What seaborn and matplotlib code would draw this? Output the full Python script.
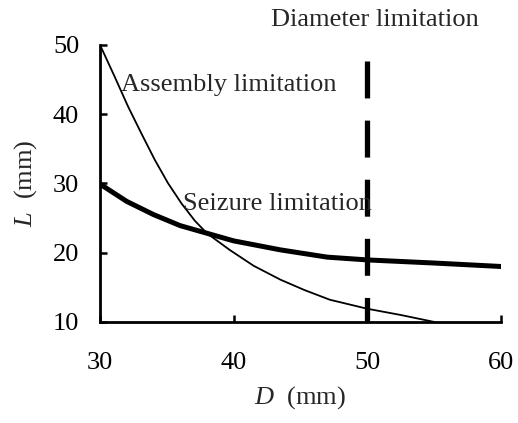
import matplotlib
matplotlib.use("Agg")
import matplotlib.pyplot as plt
import seaborn as sns
import pandas as pd

# Data
assembly_D = [30, 31.1, 32.1, 33.1, 34.1, 35.1, 36.1, 37.1, 38, 39.7, 41.5, 43.5, 45.3, 47.2, 50, 52.5, 55]
assembly_L = [50, 45.4, 41.1, 37.2, 33.4, 30.0, 27.1, 24.6, 22.8, 20.4, 18.1, 16.1, 14.6, 13.2, 11.9, 11.0, 10.0]
seizure_D = [30, 32, 34, 36, 38, 40, 43.5, 47, 50, 55, 60]
seizure_L = [29.9, 27.4, 25.5, 23.9, 22.8, 21.7, 20.4, 19.35, 18.95, 18.5, 18.0]
diameter_D = [50, 50]
diameter_L = [47.6, 10]
x_ticks = [30, 40, 50, 60]
y_ticks = [10, 20, 30, 40, 50]

sns.set_theme(style="ticks")
plt.rcParams["font.family"] = ["Liberation Serif", "DejaVu Serif"]
plt.rcParams["mathtext.fontset"] = "custom"
plt.rcParams["mathtext.it"] = "Liberation Serif:italic"
plt.rcParams["mathtext.rm"] = "Liberation Serif"

fig = plt.figure(figsize=(5.18, 4.23), dpi=100)
ax = fig.add_axes([0.193, 0.239, 0.774, 0.655])

df_a = pd.DataFrame({"D": assembly_D, "L": assembly_L})
df_s = pd.DataFrame({"D": seizure_D, "L": seizure_L})
df_d = pd.DataFrame({"D": diameter_D, "L": diameter_L})

sns.lineplot(data=df_a, x="D", y="L", ax=ax, color="black", linewidth=1.3,
             sort=False, estimator=None)
sns.lineplot(data=df_s, x="D", y="L", ax=ax, color="black", linewidth=3.6,
             sort=False, estimator=None)
sns.lineplot(data=df_d, x="D", y="L", ax=ax, color="black", linewidth=3.8,
             sort=False, estimator=None)
dline = ax.lines[-1]
dline.set_dashes((7.0, 4.2))
dline.set_dash_capstyle("butt")

ax.set_xlim(30, 60)
ax.set_ylim(10, 50)
ax.set_xticks(x_ticks)
ax.set_yticks(y_ticks)
ax.tick_params(axis="both", direction="in", length=5, width=1.8, labelsize=19,
               colors="black")
ax.tick_params(axis="x", pad=22)
ax.tick_params(axis="y", pad=15)
for s in ["top", "right"]:
    ax.spines[s].set_visible(False)
for s in ["left", "bottom"]:
    ax.spines[s].set_linewidth(2)
    ax.spines[s].set_color("black")

ax.set_xlabel("$D$  (mm)", fontsize=19, labelpad=7)
ax.set_ylabel("$L$  (mm)", fontsize=19, labelpad=10)

ax.text(31.6, 44.2, "Assembly limitation", fontsize=19, va="center", ha="left")
ax.text(36.2, 27.0, "Seizure limitation", fontsize=19, va="center", ha="left")
ax.text(50.6, 53.6, "Diameter limitation", fontsize=19, va="center", ha="center",
        clip_on=False)

fig.savefig("out.png", dpi=100)
